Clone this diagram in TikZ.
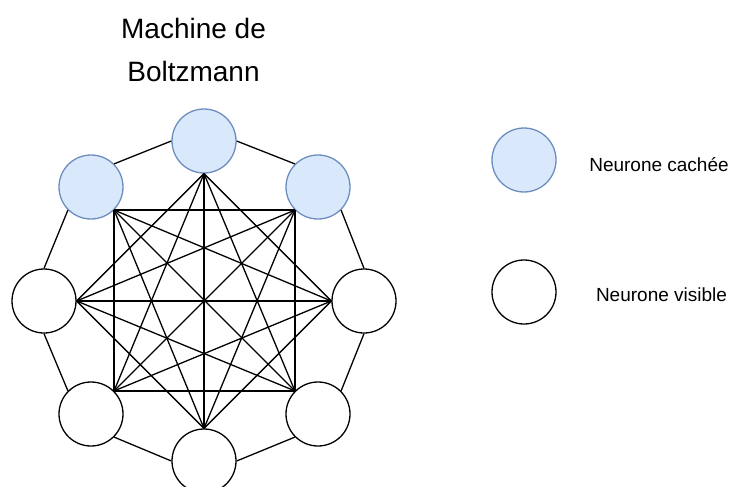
\documentclass[tikz,border=0pt]{standalone}
\usepackage{fontspec}
\setmainfont{Liberation Sans}
\definecolor{hidblue}{HTML}{6C8EBF}
\definecolor{hidfill}{HTML}{DAE8FC}
\begin{document}
\begin{tikzpicture}[x=1pt,y=-1pt,
  neuron/.style={circle, minimum size=64pt, inner sep=0pt, line width=1.3pt},
  hidden/.style={neuron, draw=hidblue, fill=hidfill},
  visible/.style={neuron, draw=black, fill=white},
  link/.style={draw=black, line width=1.3pt},
  title/.style={anchor=base, font=\fontsize{28}{34}\selectfont},
  legend/.style={anchor=base, font=\fontsize{19}{23}\selectfont}]
\clip (0,0) rectangle (731,487);

% title
\node[title] (t1) at (193.5,38.3) {Machine de};
\node[title] (t2) at (193.5,81.7) {Boltzmann};

% the eight neurons, clockwise from the top
\node[hidden]  (n1) at (204,141) {};
\node[hidden]  (n2) at (318,187) {};
\node[visible] (n3) at (364,301) {};
\node[visible] (n4) at (318,414) {};
\node[visible] (n5) at (204,461) {};
\node[visible] (n6) at (91,414) {};
\node[visible] (n7) at (44,301) {};
\node[hidden]  (n8) at (91,187) {};

% inner attachment points, facing the centre
\coordinate (h1) at (n1.south);
\coordinate (h2) at (n2.south west);
\coordinate (h3) at (n3.west);
\coordinate (h4) at (n4.north west);
\coordinate (h5) at (n5.north);
\coordinate (h6) at (n6.north east);
\coordinate (h7) at (n7.east);
\coordinate (h8) at (n8.south east);

% outer ring
\draw[link] (n1.west) -- (n8.north east);
\draw[link] (n8.south west) -- (n7.north);
\draw[link] (n7.south) -- (n6.north west);
\draw[link] (n6.south east) -- (n5.west);
\draw[link] (n5.east) -- (n4.south west);
\draw[link] (n4.north east) -- (n3.south);
\draw[link] (n3.north) -- (n2.south east);
\draw[link] (n2.north west) -- (n1.east);

% all non-adjacent pairs
\foreach \a/\b in {1/3,1/4,1/5,1/6,1/7,2/4,2/5,2/6,2/7,2/8,3/5,3/6,3/7,3/8,4/6,4/7,4/8,5/7,5/8,6/8}
  \draw[link] (h\a) -- (h\b);

% legend
\node[hidden]  (lh) at (524,160) {};
\node[visible] (lv) at (524,292) {};
\node[legend] (lht) at (659,171.7) {Neurone cachée};
\node[legend] (lvt) at (661.5,301.7) {Neurone visible};
\end{tikzpicture}
\end{document}
